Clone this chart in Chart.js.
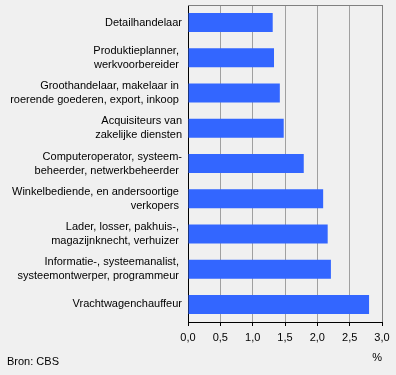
<!DOCTYPE html>
<html>
<head>
<meta charset="utf-8">
<script src="https://cdn.jsdelivr.net/npm/chart.js@4/dist/chart.umd.min.js"></script>
<style>
  html, body { margin: 0; padding: 0; background: #f0f0f0; }
  #c { display: block; }
</style>
</head>
<body>
<canvas id="c" width="396" height="375"></canvas>
<script>
const categories = [
  ["Detailhandelaar"],
  ["Produktieplanner, ", "werkvoorbereider "],
  ["Groothandelaar, makelaar in ", "roerende goederen, export, inkoop "],
  ["Acquisiteurs van", "zakelijke diensten"],
  ["Computeroperator, systeem-", "beheerder, netwerkbeheerder "],
  ["Winkelbediende, en andersoortige ", "verkopers "],
  ["Lader, losser, pakhuis-, ", "magazijnknecht, verhuizer "],
  ["Informatie-, systeemanalist, ", "systeemontwerper, programmeur "],
  ["Vrachtwagenchauffeur"]
];
const values = [1.31, 1.33, 1.42, 1.48, 1.79, 2.09, 2.16, 2.21, 2.80];
const xTickValues = [0, 0.5, 1, 1.5, 2, 2.5, 3];
const unitLabel = "%";
const sourceLabel = "Bron: CBS";

const FONT = "'Liberation Sans', Arial, sans-serif";

const extras = {
  id: 'extras',
  afterDraw(chart) {
    const ctx = chart.ctx;
    const a = chart.chartArea;
    ctx.save();
    ctx.strokeStyle = '#808080';
    ctx.lineWidth = 1;
    ctx.beginPath();
    ctx.moveTo(a.left, Math.round(a.top) + 0.5);
    ctx.lineTo(a.right + 0.5, Math.round(a.top) + 0.5);
    ctx.stroke();
    ctx.fillStyle = '#000';
    ctx.font = "11px " + FONT;
    ctx.textBaseline = 'middle';
    ctx.textAlign = 'right';
    ctx.fillText(unitLabel, a.right, 358);
    ctx.textAlign = 'left';
    ctx.fillText(sourceLabel, 7, 362);
    ctx.restore();
  }
};

new Chart(document.getElementById('c'), {
  type: 'bar',
  data: {
    labels: categories,
    datasets: [{
      data: values,
      backgroundColor: '#3366ff',
      borderWidth: 0,
      categoryPercentage: 1,
      barPercentage: 0.54
    }]
  },
  options: {
    indexAxis: 'y',
    responsive: false,
    animation: false,
    devicePixelRatio: 1,
    layout: { padding: { top: 5, right: 14, left: 0, bottom: 0 } },
    plugins: { legend: { display: false }, tooltip: { enabled: false } },
    scales: {
      x: {
        min: 0, max: 3,
        afterFit(s) { s.height = 53; s.paddingLeft = 0; s.paddingRight = 0; },
        afterBuildTicks(s) { s.ticks = xTickValues.map(v => ({ value: v })); },
        ticks: {
          color: '#000',
          font: { family: FONT, size: 11 },
          padding: 5,
          maxRotation: 0,
          callback: v => Number(v).toFixed(1).replace('.', ',')
        },
        grid: {
          color: c => (c.tick && c.tick.value === 3) ? '#808080' : '#a0a0a0',
          tickColor: '#000',
          tickLength: 4,
          lineWidth: 1
        },
        border: { display: true, color: '#000', width: 1 }
      },
      y: {
        afterFit(s) { s.width = 188; s.paddingTop = 0; s.paddingBottom = 0; },
        ticks: {
          color: '#000',
          font: { family: FONT, size: 11, lineHeight: '14px' },
          padding: 6,
          autoSkip: false
        },
        grid: { display: false, drawTicks: false },
        border: { display: true, color: '#000', width: 1 }
      }
    }
  },
  plugins: [extras]
});
</script>
</body>
</html>
